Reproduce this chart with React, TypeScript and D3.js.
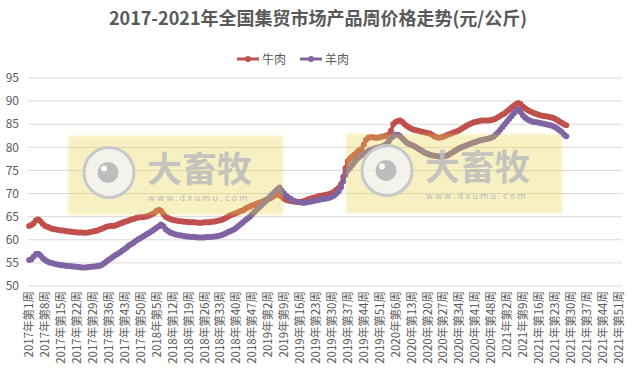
import React from "react";
import * as d3 from "d3";

// week categories: 2017 week 1 .. 2021 week 52
const years = [2017, 2018, 2019, 2020, 2021];
const weeksPerYear = [52, 52, 52, 53, 52];
const categories: string[] = [];
years.forEach((yr, k) => {
  for (let w = 1; w <= weeksPerYear[k]; w++) categories.push(`${yr}年第${w}周`);
});

// 牛肉 (beef) weekly price, 2017w1 .. 2021w28
const beef = [
  63.0, 63.2, 63.6, 64.2, 64.4, 64.0, 63.4, 63.0, 62.8, 62.6,
  62.4, 62.3, 62.2, 62.1, 62.0, 62.0, 61.9, 61.8, 61.8, 61.7,
  61.7, 61.6, 61.6, 61.6, 61.5, 61.5, 61.6, 61.7, 61.8, 61.9,
  62.0, 62.2, 62.4, 62.6, 62.8, 62.9, 63.0, 63.0, 63.1, 63.3,
  63.5, 63.7, 63.9, 64.0, 64.2, 64.4, 64.5, 64.7, 64.8, 64.9,
  64.9, 65.0, 65.1, 65.3, 65.5, 65.8, 66.2, 66.5, 66.2, 65.6,
  65.0, 64.7, 64.5, 64.3, 64.2, 64.1, 64.0, 64.0, 63.9, 63.9,
  63.8, 63.8, 63.8, 63.8, 63.7, 63.7, 63.7, 63.8, 63.8, 63.8,
  63.9, 63.9, 64.0, 64.1, 64.2, 64.4, 64.6, 64.9, 65.2, 65.4,
  65.6, 65.8, 66.0, 66.2, 66.4, 66.7, 67.0, 67.2, 67.4, 67.6,
  67.8, 68.0, 68.2, 68.4, 68.6, 68.8, 69.0, 69.3, 69.6, 69.9,
  69.7, 69.3, 68.9, 68.6, 68.5, 68.4, 68.3, 68.3, 68.2, 68.2,
  68.3, 68.4, 68.6, 68.8, 69.0, 69.1, 69.2, 69.4, 69.5, 69.6,
  69.7, 69.8, 69.9, 70.1, 70.4, 70.8, 71.2, 72.0, 73.6, 75.5,
  77.0, 77.6, 78.0, 78.4, 78.9, 79.3, 79.6, 80.6, 81.6, 82.1,
  82.2, 82.2, 82.1, 82.1, 82.2, 82.3, 82.4, 82.5, 82.8, 83.6,
  85.0, 85.5, 85.7, 85.8, 85.5, 85.0, 84.6, 84.3, 84.0, 83.8,
  83.7, 83.6, 83.4, 83.3, 83.2, 83.1, 83.0, 82.7, 82.4, 82.2,
  82.1, 82.2, 82.3, 82.5, 82.7, 82.9, 83.1, 83.3, 83.5, 83.7,
  84.0, 84.3, 84.6, 84.9, 85.1, 85.3, 85.5, 85.6, 85.7, 85.8,
  85.8, 85.8, 85.8, 85.9, 86.0, 86.2, 86.5, 86.8, 87.1, 87.4,
  87.8, 88.2, 88.6, 89.0, 89.4, 89.6, 89.3, 88.8, 88.4, 88.1,
  87.8, 87.6, 87.4, 87.2, 87.0, 86.9, 86.8, 86.7, 86.6, 86.5,
  86.4, 86.2, 85.9, 85.6, 85.3, 85.0, 84.8,
];

// 羊肉 (mutton) weekly price
const mutton = [
  55.6, 55.8, 56.4, 56.9, 57.0, 56.6, 56.0, 55.6, 55.3, 55.1,
  55.0, 54.8, 54.7, 54.6, 54.5, 54.5, 54.4, 54.3, 54.3, 54.2,
  54.2, 54.1, 54.1, 54.0, 54.0, 54.0, 54.1, 54.1, 54.2, 54.2,
  54.3, 54.4, 54.6, 54.9, 55.3, 55.7, 56.0, 56.4, 56.7, 57.0,
  57.3, 57.7, 58.0, 58.4, 58.8, 59.1, 59.4, 59.8, 60.1, 60.4,
  60.7, 61.0, 61.3, 61.6, 61.9, 62.2, 62.6, 62.9, 63.3, 62.9,
  62.3, 61.9, 61.6, 61.4, 61.2, 61.1, 61.0, 60.9, 60.8, 60.7,
  60.7, 60.6, 60.6, 60.6, 60.5, 60.5, 60.5, 60.5, 60.6, 60.6,
  60.6, 60.7, 60.7, 60.8, 60.9, 61.1, 61.3, 61.6, 61.8, 62.0,
  62.2, 62.6, 63.0, 63.4, 63.8, 64.2, 64.6, 65.0, 65.5, 66.0,
  66.5, 67.0, 67.4, 67.9, 68.4, 68.9, 69.4, 69.9, 70.4, 70.9,
  71.3, 70.6, 70.0, 69.5, 69.1, 68.8, 68.5, 68.3, 68.2, 68.1,
  68.0, 68.0, 68.1, 68.2, 68.3, 68.4, 68.5, 68.6, 68.7, 68.8,
  68.9, 69.0, 69.1, 69.3, 69.6, 70.0, 70.5, 71.3, 72.6, 74.0,
  75.0, 75.6, 76.2, 76.8, 77.4, 77.9, 78.3, 78.6, 78.9, 79.2,
  79.4, 79.6, 79.8, 79.9, 80.0, 80.2, 80.4, 80.7, 81.3, 82.0,
  82.4, 82.7, 82.7, 82.4, 81.9, 81.4, 81.0, 80.7, 80.5, 80.3,
  80.0, 79.7, 79.4, 79.1, 78.8, 78.6, 78.4, 78.3, 78.2, 78.1,
  78.0, 78.0, 78.0, 78.1, 78.3, 78.6, 78.9, 79.2, 79.5, 79.8,
  80.0, 80.2, 80.4, 80.6, 80.8, 81.0, 81.1, 81.3, 81.5, 81.6,
  81.7, 81.8, 81.9, 82.1, 82.3, 82.7, 83.2, 83.8, 84.4, 85.0,
  85.6, 86.2, 86.8, 87.4, 87.9, 88.2, 87.6, 86.9, 86.4, 86.0,
  85.8, 85.6, 85.5, 85.4, 85.3, 85.2, 85.1, 85.0, 84.9, 84.8,
  84.6, 84.4, 84.1, 83.7, 83.3, 82.8, 82.4,
];

const yTicks = [50, 55, 60, 65, 70, 75, 80, 85, 90, 95];
const xTickLabels = categories.filter((_, i) => i % 7 === 0);

const W = 635;
const H = 374;
const left = 28;
const right = 622;
const top = 78;
const bottom = 286;
const textColor = "#595959";
const cjk = "'Noto Sans CJK SC', 'Noto Sans', sans-serif";

const Watermark = ({ x, y, w, h }: { x: number; y: number; w: number; h: number }) => {
  const cx = x + 41;
  const cy = y + h / 2 - 3;
  return (
    <g>
      <rect x={x} y={y} width={w} height={h} fill="rgb(232,212,72)" opacity={0.33} filter="url(#soft)" />
      <circle cx={cx} cy={cy} r={25} fill="#f2f2f2" fillOpacity={0.85} stroke="#c9c9c9" strokeWidth={3} />
      <circle cx={cx - 1} cy={cy} r={10.5} fill="#bdbdbd" />
      <circle cx={cx - 5} cy={cy - 4} r={3} fill="#ffffff" />
      <text x={x + 79} y={y + 46} fontFamily={cjk} fontWeight="bold" fontSize={35} fill="#bcbcbc" fillOpacity={0.85}>
        大畜牧
      </text>
      <text x={x + 80} y={y + 65} fontFamily="'DejaVu Sans', sans-serif" fontSize={8.5} letterSpacing={2.2} fill="#bcbcbc">
        www.dxumu.com
      </text>
    </g>
  );
};

export default function App() {
  const x = d3.scaleBand<string>().domain(categories).range([left, right]);
  const bw = x.bandwidth();
  const cxOf = (i: number) => (x(categories[i]) as number) + bw / 2;
  const y = d3.scaleLinear().domain([50, 95]).range([bottom, top]);

  const line = d3
    .line<number>()
    .x((_, i) => cxOf(i))
    .y(d => y(d));

  const series = [
    { name: "牛肉", values: beef, color: "#c0504d" },
    { name: "羊肉", values: mutton, color: "#8064a2" },
  ];

  return (
    <svg width={W} height={H} style={{ position: "absolute", left: 0, top: 0, background: "#fff" }}>
      <defs>
        <filter id="soft" x="-5%" y="-5%" width="110%" height="110%">
          <feGaussianBlur stdDeviation="1.2" />
        </filter>
      </defs>

      {/* title */}
      <text x={318} y={25} textAnchor="middle" fontFamily={cjk} fontWeight="bold" fontSize={18} fill={textColor}>
        2017-2021年全国集贸市场产品周价格走势(元/公斤)
      </text>

      {/* legend */}
      {series.map((s, k) => {
        const lx = 237 + k * 63;
        return (
          <g key={s.name}>
            <line x1={lx} x2={lx + 22} y1={59} y2={59} stroke={s.color} strokeWidth={3} />
            <circle cx={lx + 11} cy={59} r={3} fill={s.color} />
            <text x={lx + 25} y={63.5} fontFamily={cjk} fontSize={12} fill={textColor}>
              {s.name}
            </text>
          </g>
        );
      })}

      {/* gridlines + y labels */}
      {yTicks.map(t => (
        <g key={t}>
          <line x1={left} x2={right} y1={y(t)} y2={y(t)} stroke="#d9d9d9" strokeWidth={1} />
          <text x={19} y={y(t)} dy="0.35em" textAnchor="end" fontFamily={cjk} fontSize={12} fill={textColor}>
            {t}
          </text>
        </g>
      ))}

      {/* x labels */}
      {xTickLabels.map(c => {
        const px = (x(c) as number) + bw / 2;
        return (
          <text
            key={c}
            transform={`translate(${px},${bottom + 5}) rotate(-90)`}
            textAnchor="end"
            dy="0.36em"
            fontFamily={cjk}
            fontSize={11.5}
            fill={textColor}
          >
            {c}
          </text>
        );
      })}

      {/* series */}
      {series.map(s => (
        <g key={s.name}>
          <path d={line(s.values) || ""} fill="none" stroke={s.color} strokeWidth={3.5} strokeLinejoin="round" />
          {s.values.map((v, i) => (
            <circle key={i} cx={cxOf(i)} cy={y(v)} r={3} fill={s.color} />
          ))}
        </g>
      ))}

      {/* watermarks */}
      <Watermark x={68} y={136} w={215} h={79} />
      <Watermark x={346} y={134} w={216} h={79} />
    </svg>
  );
}
